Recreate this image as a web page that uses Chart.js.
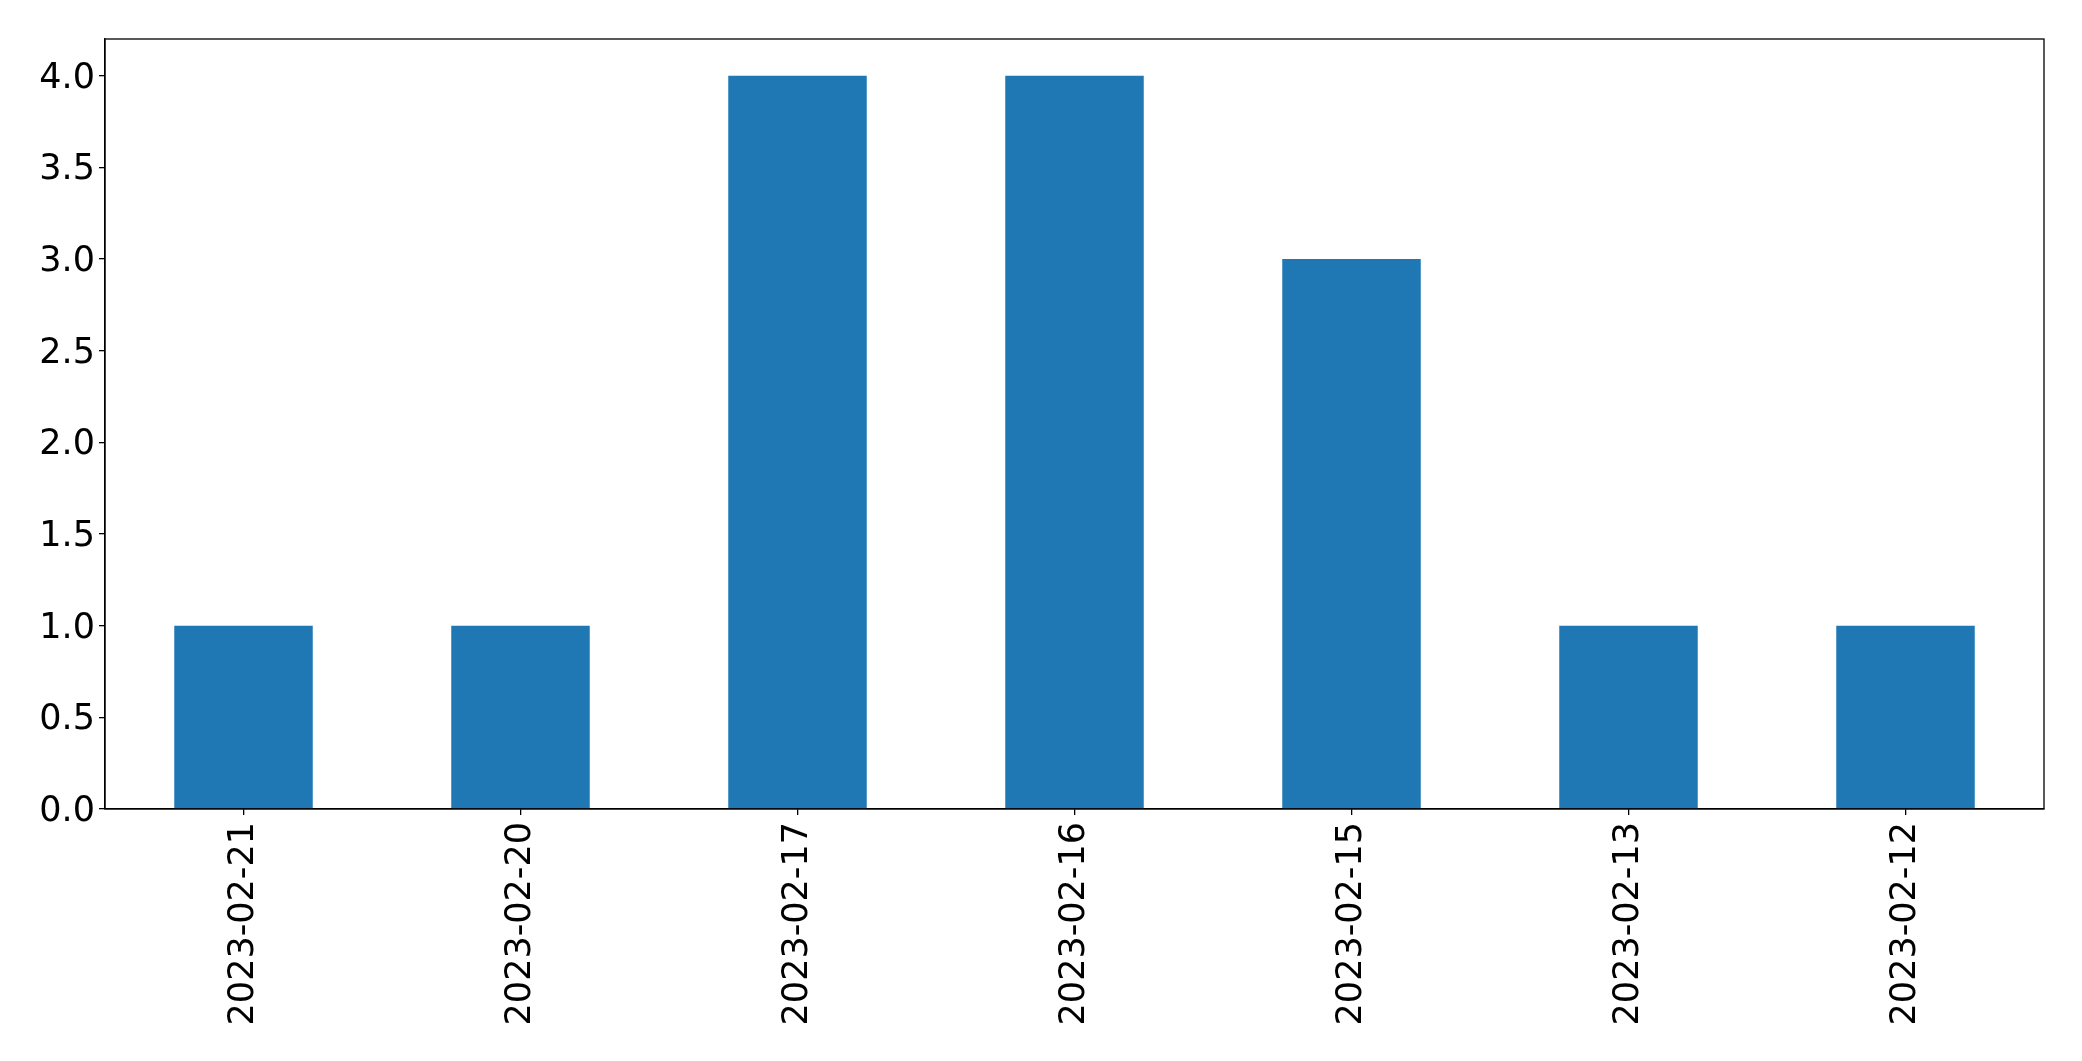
<!DOCTYPE html>
<html>
<head>
<meta charset="utf-8">
<script src="https://cdn.jsdelivr.net/npm/chart.js@4/dist/chart.umd.min.js"></script>
<style>
  html, body { margin: 0; padding: 0; background: #fff; }
  #wrap { width: 2082px; height: 1061px; }
</style>
</head>
<body>
<div id="wrap"><canvas id="chart" width="2082" height="1061"></canvas></div>
<script>
// ── Datos ──────────────────────────
const DATES  = ['2023-02-21', '2023-02-20', '2023-02-17', '2023-02-16', '2023-02-15', '2023-02-13', '2023-02-12'];
const COUNTS = [1, 1, 4, 4, 3, 1, 1];
const Y_TICKS = [0, 0.5, 1, 1.5, 2, 2.5, 3, 3.5, 4];

const FONT = { family: 'DejaVu Sans', size: 35 };

// marco completo alrededor del área de gráfico
const frame = {
  id: 'frame',
  afterDraw(chart) {
    const { ctx, chartArea: a } = chart;
    ctx.save();
    ctx.strokeStyle = '#000';
    ctx.lineWidth = 1.3;
    ctx.strokeRect(a.left, a.top, a.right - a.left, a.bottom - a.top);
    ctx.restore();
  }
};

new Chart(document.getElementById('chart'), {
  type: 'bar',
  data: {
    labels: DATES,
    datasets: [{
      data: COUNTS,
      backgroundColor: '#1f77b4',
      borderWidth: 0,
      categoryPercentage: 1,
      barPercentage: 0.5
    }]
  },
  options: {
    responsive: false,
    animation: false,
    layout: { padding: { top: 39, right: 38, left: 0, bottom: 0 } },
    plugins: { legend: { display: false }, tooltip: { enabled: false } },
    scales: {
      x: {
        afterFit: s => { s.height = 252; },
        grid: { offset: false, drawOnChartArea: false, drawTicks: true, tickLength: 6, color: '#000', lineWidth: 1.3 },
        border: { display: true, color: '#000', width: 1.3 },
        ticks: { color: '#000', font: FONT, minRotation: 90, maxRotation: 90, padding: 7, autoSkip: false }
      },
      y: {
        min: 0,
        max: 4.2,
        afterFit: s => { s.width = 105; },
        afterBuildTicks: s => { s.ticks = Y_TICKS.map(v => ({ value: v })); },
        grid: { drawOnChartArea: false, drawTicks: true, tickLength: 6, color: '#000', lineWidth: 1.3 },
        border: { display: true, color: '#000', width: 1.3 },
        ticks: { color: '#000', font: FONT, padding: 4, labelOffset: 3, callback: v => Number(v).toFixed(1) }
      }
    }
  },
  plugins: [frame]
});
</script>
</body>
</html>
